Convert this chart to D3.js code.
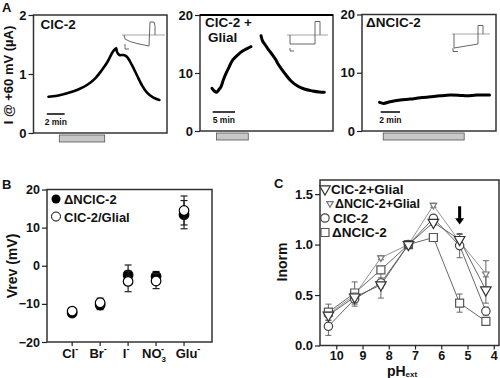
<!DOCTYPE html>
<html><head><meta charset="utf-8">
<script src="https://cdn.jsdelivr.net/npm/d3@7"></script>
<style>
body{margin:0;background:#fff}
text{font-family:"Liberation Sans",Arial,Helvetica,sans-serif;font-weight:bold;fill:#111}
</style>
</head><body>
<svg id="c" width="500" height="378"></svg>
<script>
// ---------------- DATA ----------------
// Panel A1 : ClC-2 (time in min, current in µA)
const a1Time    = [1.68,2.65,3.77,4.89,6.01,6.94,7.69,8.32,8.81,9.07,9.29,9.37,9.66,10.11,10.49,11.05,11.61,12.17,12.73,13.47,14.14];
const a1Current = [0.615,0.632,0.673,0.729,0.814,0.927,1.068,1.208,1.351,1.407,1.436,1.378,1.322,1.322,1.293,1.153,0.983,0.814,0.69,0.598,0.559];
const a1Bar = [2.9, 8.0];
const a1Ticks = [0, 1, 2];
// Panel A2 : ClC-2 + Glial (two segments)
const a2TimeA    = [2.68,3.2,3.71,4.16,4.70,5.21,5.82,6.55,7.29,8.41,9.53,10.65,11.41];
const a2CurrentA = [7.36,6.9,6.67,7.07,7.64,8.79,9.95,11.09,12.24,13.1,13.79,14.26,14.53];
const a2TimeB    = [13.65,14.0,14.61,15.35,16.24,17.0,17.36,18.12,19.24,20.36,21.83,23.33,25.19,26.69,27.81];
const a2CurrentB = [16.43,15.52,14.83,13.97,13.1,12.24,11.67,10.81,9.66,8.62,7.76,7.24,6.9,6.72,6.67];
const a2Bar = [3.7, 10.8];
// Panel A3 : ΔNClC-2
const a3Time    = [1.82,2.24,2.93,3.97,5.0,6.04,7.08,8.11,9.15,10.18,10.88,11.92,13.23];
const a3Current = [4.91,4.74,5.02,5.31,5.48,5.70,5.87,6.04,6.16,6.11,6.04,6.16,6.16];
const a3Bar = [2.2, 10.6];
const a23Ticks = [0, 10, 20];

// Voltage-protocol insets (local units 0..40 x 0..32)
const insetA1Base = [[0,15],[43,15]];
const insetA1Trace = [[2,15],[3,19],[8,21.5],[15,23.5],[22,25],[27,26],[28,2],[32,2],[33,6],[33,15]];
const insetA1Scale = [[3,24],[3,29],[7,29]];
const insetA2Base = [[0,15],[41,15]];
const insetA2Trace = [[3,15],[3,24],[28,24],[28,1.5],[33,1.5],[33,15]];
const insetA2Scale = [[3,28],[3,31],[7,31]];
const insetA3Base = [[0,14],[38,14]];
const insetA3Trace = [[2,14],[2,28],[26,24],[26,5.5],[31,5.5],[31,14]];
const insetA3Scale = [[1,28],[1,31.5],[6,31.5]];

// Panel B : reversal potentials
const bCategories = ["Cl","Br","I","NO","Glu"];
const bSubscripts = ["","","","3",""];
const bDeltaN     = [-12.4,-10.3,-2.4,-2.8,13.4];
const bDeltaNErr  = [0.8,1.2,2.6,1.3,3.7];
const bGlial      = [-11.9,-9.7,-4.1,-4.0,14.5];
const bGlialErr   = [0.8,1.2,2.7,2.0,3.8];
const bTicks = [-20,-10,0,10,20];

// Panel C : pH dependence
const cPH = [10.3,9.3,8.3,7.25,6.3,5.3,4.3];
const cGlial       = [0.30,0.48,0.60,1.0,1.22,1.05,0.55];
const cGlialErr    = [0.05,0.05,0.13,0,0.03,0.05,0.13];
const cDNGlial     = [0.31,0.50,0.87,1.0,1.39,1.03,0.71];
const cDNGlialErr  = [0.03,0.03,0.02,0,0.02,0.03,0.13];
const cClC2        = [0.19,0.46,0.62,1.0,1.26,0.99,0.34];
const cClC2Err     = [0.09,0.07,0.05,0,0.03,0.12,0.04];
const cDN          = [0.33,0.52,0.75,1.0,1.07,0.42,0.24];
const cDNErr       = [0.08,0.11,0.03,0,0.03,0.09,0.03];
const cXTicks = [10,9,8,7,6,5,4];
const cYTicks = [0,0.5,1.0,1.5];

// ---------------- DRAW ----------------
const svg = d3.select("#c");
svg.append("rect").attr("width",500).attr("height",378).attr("fill","#fff");

function leftAxis(g, y, ticks, fmt, fs){
  const ax = d3.axisLeft(y).tickValues(ticks).tickSize(5).tickPadding(2).tickFormat(fmt);
  g.call(ax);
  g.select(".domain").remove();
  g.selectAll(".tick line").attr("stroke","#222").attr("stroke-width",1.2);
  g.selectAll(".tick text").attr("font-size",fs).attr("font-family",null).attr("fill","#111");
}

function panelA(cfg){
  const x = d3.scaleLinear().domain(cfg.xDomain).range([cfg.left,cfg.right]);
  const y = d3.scaleLinear().domain(cfg.yDomain).range([cfg.bottom,cfg.top]);
  const g = svg.append("g");
  g.append("rect").attr("x",x(cfg.bar[0])).attr("y",cfg.bottom+2)
    .attr("width",x(cfg.bar[1])-x(cfg.bar[0])).attr("height",7)
    .attr("fill","#c8c8c8").attr("stroke","#555").attr("stroke-width",0.8);
  g.append("rect").attr("x",cfg.left).attr("y",cfg.top)
    .attr("width",cfg.right-cfg.left).attr("height",cfg.bottom-cfg.top)
    .attr("fill","none").attr("stroke","#333").attr("stroke-width",1.5);
  if(cfg.thickTop) g.append("line").attr("x1",cfg.left).attr("x2",cfg.right).attr("y1",cfg.top).attr("y2",cfg.top).attr("stroke","#000").attr("stroke-width",2);
  leftAxis(g.append("g").attr("transform",`translate(${cfg.left},0)`), y, cfg.ticks, d3.format("d"), 13);
  const line = d3.line().x(d=>x(d[0])).y(d=>y(d[1])).curve(d3.curveCatmullRom);
  cfg.traces.forEach(tr=>{
    g.append("path").attr("d",line(d3.zip(tr[0],tr[1]))).attr("fill","none")
      .attr("stroke","#000").attr("stroke-width",cfg.lw).attr("stroke-linejoin","round").attr("stroke-linecap","round");
  });
  const sb0 = x(cfg.sb[0]), sb1 = x(cfg.sb[0]+cfg.sb[1]);
  g.append("line").attr("x1",sb0).attr("x2",sb1).attr("y1",cfg.bottom-19).attr("y2",cfg.bottom-19).attr("stroke","#000").attr("stroke-width",1.5);
  g.append("text").attr("x",(sb0+sb1)/2).attr("y",cfg.bottom-8).attr("text-anchor","middle").attr("font-size",8.5).text(cfg.sbLabel);
  cfg.title.forEach((t,i)=>{
    g.append("text").attr("x",cfg.left+cfg.titleDx[i]).attr("y",cfg.top+cfg.titleDy[i]).attr("font-size",13.5).text(t);
  });
  const ix = d3.scaleLinear().domain([0,40]).range([cfg.inset[0],cfg.inset[0]+40]);
  const iy = d3.scaleLinear().domain([0,32]).range([cfg.inset[1],cfg.inset[1]+32]);
  const il = d3.line().x(d=>ix(d[0])).y(d=>iy(d[1]));
  cfg.insetLines.forEach((pts,i)=>{
    g.append("path").attr("d",il(pts)).attr("fill","none")
      .attr("stroke", i===0 ? "#9a9a9a" : "#555").attr("stroke-width",0.9);
  });
}

panelA({left:33.5,right:167,top:15,bottom:133,xDomain:[0,15],yDomain:[0,2],ticks:a1Ticks,
  bar:a1Bar,traces:[[a1Time,a1Current]],lw:2.6,sb:[1.5,2],sbLabel:"2 min",
  title:["ClC-2"],titleDx:[7],titleDy:[14],inset:[122,20],
  insetLines:[insetA1Base,insetA1Trace,insetA1Scale]});
panelA({left:200,right:333,top:15,bottom:131,xDomain:[0,29.75],yDomain:[0,20],ticks:a23Ticks,
  bar:a2Bar,traces:[[a2TimeA,a2CurrentA],[a2TimeB,a2CurrentB]],lw:3,sb:[2.84,5],sbLabel:"5 min",
  title:["ClC-2 +","Glial"],titleDx:[5,8],titleDy:[12,27],inset:[287,20],thickTop:true,
  insetLines:[insetA2Base,insetA2Trace,insetA2Scale]});
panelA({left:362,right:496,top:14.5,bottom:131,xDomain:[0,13.9],yDomain:[0,20],ticks:a23Ticks,
  bar:a3Bar,traces:[[a3Time,a3Current]],lw:3,sb:[1.94,2],sbLabel:"2 min",
  title:["\u0394NClC-2"],titleDx:[4],titleDy:[12],inset:[452,20],
  insetLines:[insetA3Base,insetA3Trace,insetA3Scale]});

svg.append("text").attr("transform","translate(13,75) rotate(-90)").attr("text-anchor","middle")
  .attr("font-size",13).text("I @ +60 mV (\u00b5A)");
svg.append("text").attr("x",2).attr("y",12).attr("font-size",13).text("A");

// ---------- Panel B ----------
{
  const L=47,R=212,T=189.5,B=342;
  const x = d3.scaleLinear().domain([0.1,6]).range([L,R]);
  const y = d3.scaleLinear().domain([-20,20]).range([B,T]);
  const g = svg.append("g");
  g.append("rect").attr("x",L).attr("y",T).attr("width",R-L).attr("height",B-T)
    .attr("fill","none").attr("stroke","#333").attr("stroke-width",1.5);
  leftAxis(g.append("g").attr("transform",`translate(${L},0)`), y, bTicks, d3.format("d"), 12.5);
  bCategories.forEach((c,i)=>{
    const cx = x(i+1);
    g.append("line").attr("x1",cx).attr("x2",cx).attr("y1",B).attr("y2",B+4).attr("stroke","#222").attr("stroke-width",1.2);
    const t = g.append("text").attr("x",cx-(i===4?-4:2)).attr("y",B+16).attr("text-anchor","middle").attr("font-size",13);
    t.append("tspan").text(c);
    if(bSubscripts[i]) t.append("tspan").attr("font-size",8).attr("dy",4).text(bSubscripts[i]);
    t.append("tspan").attr("font-size",9).attr("dy",bSubscripts[i]? -10 : -6).attr("dx",bSubscripts[i]? -5:0).text("-");
  });
  const drawSeries=(vals,errs,filled)=>{
    vals.forEach((v,i)=>{
      const cx=x(i+1);
      g.append("line").attr("x1",cx).attr("x2",cx).attr("y1",y(v-errs[i])).attr("y2",y(v+errs[i])).attr("stroke","#222").attr("stroke-width",1.2);
      [v-errs[i],v+errs[i]].forEach(e=>g.append("line").attr("x1",cx-3.5).attr("x2",cx+3.5).attr("y1",y(e)).attr("y2",y(e)).attr("stroke","#222").attr("stroke-width",1.2));
    });
    vals.forEach((v,i)=>{
      g.append("circle").attr("cx",x(i+1)).attr("cy",y(v)).attr("r",4.8)
        .attr("fill",filled?"#000":"#fff").attr("stroke","#000").attr("stroke-width",1.2);
    });
  };
  drawSeries(bDeltaN,bDeltaNErr,true);
  drawSeries(bGlial,bGlialErr,false);
  g.append("circle").attr("cx",56).attr("cy",199).attr("r",4.5).attr("fill","#000");
  g.append("text").attr("x",64).attr("y",204).attr("font-size",13).text("\u0394NClC-2");
  g.append("circle").attr("cx",56).attr("cy",216.5).attr("r",4.5).attr("fill","#fff").attr("stroke","#000").attr("stroke-width",1);
  g.append("text").attr("x",64).attr("y",221.5).attr("font-size",13).text("ClC-2/Glial");
  svg.append("text").attr("transform","translate(17,266) rotate(-90)").attr("text-anchor","middle")
    .attr("font-size",14).text("Vrev (mV)");
  svg.append("text").attr("x",2).attr("y",189).attr("font-size",13).text("B");
}

// ---------- Panel C ----------
{
  const L=320,R=499,T=180,B=345.5;
  const x = d3.scaleLinear().domain([10.62,3.8]).range([L,R]);
  const y = d3.scaleLinear().domain([0,1.64]).range([B,T]);
  const g = svg.append("g");
  g.append("rect").attr("x",L).attr("y",T).attr("width",R-L).attr("height",B-T)
    .attr("fill","none").attr("stroke","#333").attr("stroke-width",1.5);
  leftAxis(g.append("g").attr("transform",`translate(${L},0)`), y, cYTicks, d3.format(".1f"), 13);
  const bx = g.append("g").attr("transform",`translate(0,${B})`)
    .call(d3.axisBottom(x).tickValues(cXTicks).tickSize(4).tickPadding(2).tickFormat(d3.format("d")));
  bx.select(".domain").remove();
  bx.selectAll(".tick line").attr("stroke","#222").attr("stroke-width",1.2);
  bx.selectAll(".tick text").attr("font-size",12.5).attr("font-family",null).attr("fill","#111");

  const series = [
    {v:cDN, e:cDNErr, m:"square", col:"#555", lc:"#555"},
    {v:cClC2, e:cClC2Err, m:"circle", col:"#444", lc:"#555"},
    {v:cDNGlial, e:cDNGlialErr, m:"smalltri", col:"#777", lc:"#888"},
    {v:cGlial, e:cGlialErr, m:"bigtri", col:"#333", lc:"#555"}
  ];
  const ln = d3.line().x(d=>x(d[0])).y(d=>y(d[1]));
  series.forEach(s=>{
    g.append("path").attr("d",ln(d3.zip(cPH,s.v))).attr("fill","none").attr("stroke",s.lc).attr("stroke-width",0.9);
  });
  series.forEach(s=>{
    s.v.forEach((v,i)=>{
      if(!s.e[i]) return;
      const cx=x(cPH[i]);
      g.append("line").attr("x1",cx).attr("x2",cx).attr("y1",y(v-s.e[i])).attr("y2",y(v+s.e[i])).attr("stroke","#666").attr("stroke-width",1);
      [v-s.e[i],v+s.e[i]].forEach(e=>g.append("line").attr("x1",cx-3).attr("x2",cx+3).attr("y1",y(e)).attr("y2",y(e)).attr("stroke","#666").attr("stroke-width",1));
    });
  });
  const sym = {
    square: d3.symbol().type(d3.symbolSquare).size(64),
    circle: d3.symbol().type(d3.symbolCircle).size(55),
    smalltri: d3.symbol().type(d3.symbolTriangle).size(18),
    bigtri: d3.symbol().type(d3.symbolTriangle).size(48)
  };
  const drawMarker=(m,cx,cy,col)=>{
    const rot = (m==="smalltri"||m==="bigtri") ? " rotate(180)" : "";
    g.append("path").attr("d",sym[m]()).attr("transform",`translate(${cx},${cy})${rot}`)
      .attr("fill","#fff").attr("stroke",col).attr("stroke-width",1.2);
  };
  series.forEach(s=>s.v.forEach((v,i)=>drawMarker(s.m,x(cPH[i]),y(v),s.col)));

  const leg = [
    {m:"bigtri", t:"ClC-2+Glial", lx:325, ly:189, tx:331, fs:13.5, col:"#333"},
    {m:"smalltri", t:"\u0394NClC-2+Glial", lx:330, ly:203.5, tx:335, fs:12.5, col:"#777"},
    {m:"circle", t:"ClC-2", lx:325, ly:218, tx:333, fs:13.5, col:"#444"},
    {m:"square", t:"\u0394NClC-2", lx:325, ly:232.5, tx:332, fs:13.5, col:"#555"}
  ];
  leg.forEach(d=>{
    drawMarker(d.m,d.lx,d.ly,d.col);
    g.append("text").attr("x",d.tx).attr("y",d.ly+4.5).attr("font-size",d.fs).text(d.t);
  });
  const ax = x(5.3);
  g.append("line").attr("x1",ax).attr("x2",ax).attr("y1",y(1.38)).attr("y2",y(1.25)).attr("stroke","#000").attr("stroke-width",3);
  g.append("path").attr("d",d3.line()([[ax-4.5,y(1.26)],[ax+4.5,y(1.26)],[ax,y(1.2)]])+"Z").attr("fill","#000");

  const xl = svg.append("text").attr("x",402).attr("y",376).attr("text-anchor","middle").attr("font-size",14).attr("font-weight","normal");
  xl.append("tspan").text("pH");
  xl.append("tspan").attr("font-size",8).attr("dy",1).text("ext");
  svg.append("text").attr("transform","translate(287,262) rotate(-90)").attr("text-anchor","middle")
    .attr("font-size",14).text("Inorm");
  svg.append("text").attr("x",274).attr("y",188).attr("font-size",13).text("C");
}
</script>
</body></html>
